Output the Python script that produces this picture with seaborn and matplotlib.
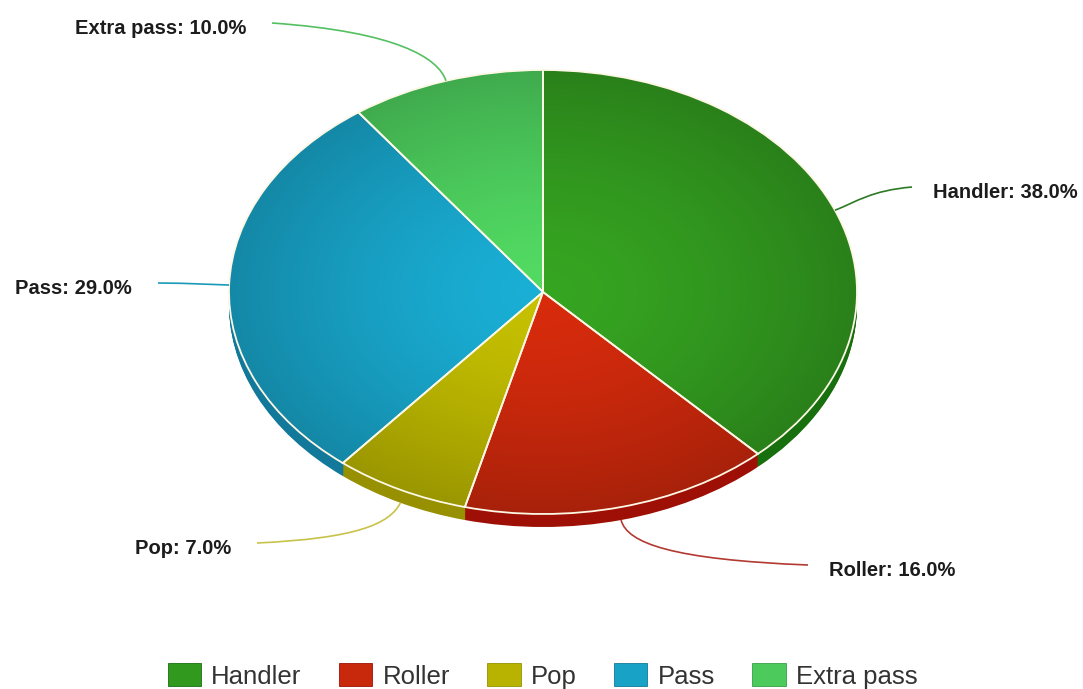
import numpy as np
import matplotlib
matplotlib.use("Agg")
import matplotlib.pyplot as plt
from matplotlib.path import Path
from matplotlib.patches import PathPatch, Patch
from matplotlib.colors import to_rgb
import seaborn as sns

# ---- data -------------------------------------------------------------
categories = ["Handler", "Roller", "Pop", "Pass", "Extra pass"]
shares = [38.0, 16.0, 7.0, 29.0, 10.0]

top_colors = ["#32991f", "#c8280c", "#b8b300", "#18a2c6", "#4ccb5c"]
side_colors = ["#176f0e", "#9e1006", "#979000", "#13799a", "#36a044"]
line_colors = ["#2d7a24", "#b23a32", "#c9c24a", "#1a9ab8", "#55c062"]

# ---- layout (pixels of the 1083 x 689 canvas) -------------------------
W, H = 1083, 689
CX, CY = 543, 292          # centre of the top face
RX, RY = 314, 222          # half-axes of the top face
DEPTH = 13                 # thickness of the disc
# end points of the label connectors
label_ends = [(912, 187), (808, 565), (257, 543), (158, 283), (272, 23)]

sns.set_theme(style="white")
plt.rcParams["font.family"] = ["Liberation Sans", "DejaVu Sans"]

fig = plt.figure(figsize=(W / 100, H / 100), dpi=100)
ax = fig.add_axes([0, 0, 1, 1])


def to_data(px, py):
    return (px - CX) / RX, (CY - py) / RY


def to_px(x, y):
    return CX + x * RX, CY - y * RY


depth = DEPTH / RY
palette_top = sns.color_palette(top_colors)
palette_side = sns.color_palette(side_colors)

# side wall: darker copies of the pie stacked downwards
for d in np.linspace(depth, 0.0, 16):
    ax.pie(shares, colors=palette_side, startangle=90, counterclock=False,
           radius=1.0, center=(0, -d), wedgeprops=dict(linewidth=0, zorder=1))

# top face: outlines used as clip paths for radial shading
wedges, _ = ax.pie(shares, colors=palette_top, startangle=90,
                   counterclock=False, radius=1.0, center=(0, 0),
                   wedgeprops=dict(linewidth=1.3, edgecolor="#fdf8e6",
                                   fill=False, zorder=3))

gx, gy = np.meshgrid(np.linspace(-1, 1, 400), np.linspace(1, -1, 400))
rr = np.clip(np.hypot(gx, gy), 0, 1)
shade = 1.08 - 0.24 * rr ** 1.5
for w, c in zip(wedges, top_colors):
    rgb = np.array(to_rgb(c))
    img = np.clip(rgb[None, None, :] * shade[..., None], 0, 1)
    im = ax.imshow(img, extent=(-1, 1, -1, 1), zorder=2, interpolation="bilinear")
    im.set_clip_path(w)

# connectors and labels
for w, name, val, (ex, ey), lc in zip(wedges, categories, shares, label_ends, line_colors):
    mid = np.deg2rad((w.theta1 + w.theta2) / 2)
    axp, ayp = to_px(np.cos(mid), np.sin(mid))
    if np.sin(mid) < 0:
        ayp += DEPTH
    dirx, diry = np.cos(mid), -np.sin(mid)
    p2 = (axp + 24 * dirx, ayp + 24 * diry)
    p1 = (ex + 0.75 * (p2[0] - ex), ey + 0.25 * (p2[1] - ey))
    pts = [to_data(ex, ey), to_data(*p1), to_data(*p2), to_data(axp, ayp)]
    path = Path(pts, [Path.MOVETO, Path.CURVE4, Path.CURVE4, Path.CURVE4])
    ax.add_patch(PathPatch(path, fill=False, edgecolor=lc, linewidth=1.2, zorder=4))

    right = ex > CX
    tx = ex + 21 if right else ex - 26
    tx, ty = to_data(tx, ey + 10.5)
    ax.text(tx, ty, f"{name}: {val:.1f}%", ha="left" if right else "right",
            va="baseline", fontsize=14.5, fontweight="bold", color="#1c1c1c",
            zorder=5)

ax.set_aspect("auto")
ax.set_xlim(-CX / RX, (W - CX) / RX)
ax.set_ylim(-(H - CY) / RY, CY / RY)
ax.axis("off")

# legend along the bottom edge
handles = [Patch(facecolor=c, edgecolor=s, linewidth=0.6)
           for c, s in zip(top_colors, side_colors)]
fig.legend(handles, categories, loc="center", ncol=5,
           bbox_to_anchor=(542.5 / W, (H - 676) / H), frameon=False,
           fontsize=18.5, handlelength=1.3, handleheight=1.0,
           handletextpad=0.4, columnspacing=1.45, borderpad=0,
           labelcolor="#333333")

fig.savefig("out.png", dpi=100, facecolor="white")
